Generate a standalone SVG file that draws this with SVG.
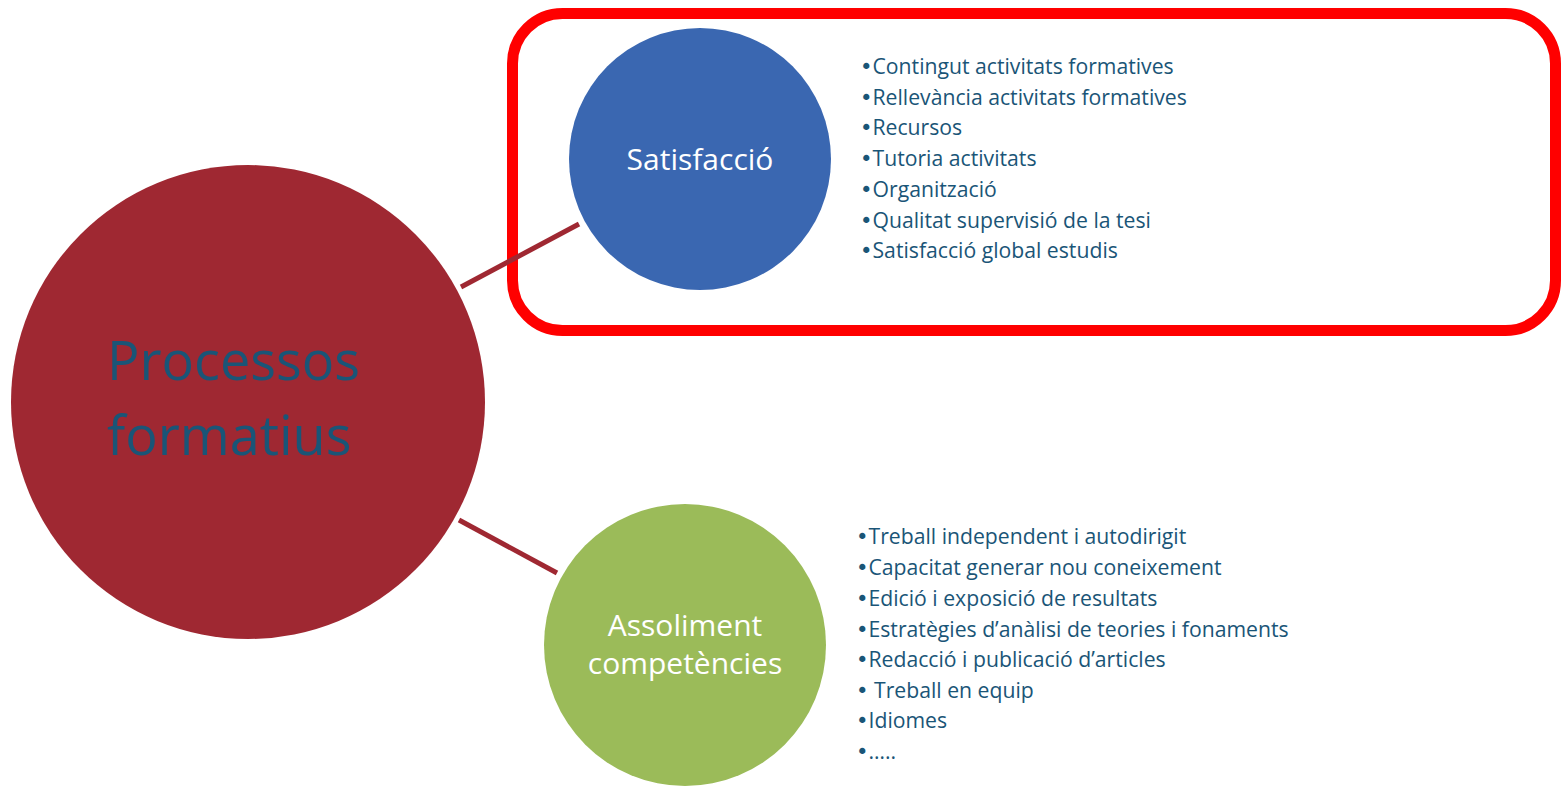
<svg xmlns="http://www.w3.org/2000/svg" width="1566" height="786" viewBox="0 0 1566 786">
<style>
.list{font-family:"Open Sans","Liberation Sans",Arial,sans-serif;font-size:21.2px;fill:#1a5577}
.b{font-family:"DejaVu Sans",sans-serif}
.white{font-family:"Open Sans","Liberation Sans",Arial,sans-serif;fill:#ffffff;text-anchor:middle;font-size:30px}
.main{font-family:"Open Sans","Liberation Sans",Arial,sans-serif;font-size:54px;fill:#1a5577}
.conn{stroke:#9f2832;stroke-width:5;fill:none}
</style>
<rect width="1566" height="786" fill="#ffffff"/>
<g id="highlight">
<rect x="512.5" y="13.5" width="1043" height="317" rx="50" ry="50" fill="none" stroke="#ff0000" stroke-width="11"/>
</g>
<g id="connectors">
<line class="conn" x1="461" y1="287" x2="579" y2="224"/>
<line class="conn" x1="459" y1="520" x2="557" y2="573"/>
</g>
<g id="node-processos">
<circle cx="248" cy="402" r="237" fill="#9f2832"/>
<text class="main" x="107" y="380">Processos</text>
<text class="main" x="107" y="455">formatius</text>
</g>
<g id="node-satisfaccio">
<circle cx="700" cy="159" r="131" fill="#3a67b1"/>
<text class="white" x="700" y="170">Satisfacció</text>
</g>
<g id="node-assoliment">
<circle cx="685" cy="645" r="141" fill="#9bbb59"/>
<text class="white" x="685" y="636">Assoliment</text>
<text class="white" x="685" y="674">competències</text>
</g>
<g id="list-satisfaccio">
<text class="list" x="860" y="74"><tspan class="b">•</tspan>Contingut activitats formatives</text>
<text class="list" x="860" y="105"><tspan class="b">•</tspan>Rellevància activitats formatives</text>
<text class="list" x="860" y="135"><tspan class="b">•</tspan>Recursos</text>
<text class="list" x="860" y="166"><tspan class="b">•</tspan>Tutoria activitats</text>
<text class="list" x="860" y="197"><tspan class="b">•</tspan>Organització</text>
<text class="list" x="860" y="228"><tspan class="b">•</tspan>Qualitat supervisió de la tesi</text>
<text class="list" x="860" y="258"><tspan class="b">•</tspan>Satisfacció global estudis</text>
</g>
<g id="list-competencies">
<text class="list" x="856" y="544"><tspan class="b">•</tspan>Treball independent i autodirigit</text>
<text class="list" x="856" y="575"><tspan class="b">•</tspan>Capacitat generar nou coneixement</text>
<text class="list" x="856" y="606"><tspan class="b">•</tspan>Edició i exposició de resultats</text>
<text class="list" x="856" y="637"><tspan class="b">•</tspan>Estratègies d’anàlisi de teories i fonaments</text>
<text class="list" x="856" y="667"><tspan class="b">•</tspan>Redacció i publicació d’articles</text>
<text class="list" x="856" y="698"><tspan class="b">•</tspan> Treball en equip</text>
<text class="list" x="856" y="728"><tspan class="b">•</tspan>Idiomes</text>
<text class="list" x="856" y="759"><tspan class="b">•</tspan>…..</text>
</g>
</svg>
